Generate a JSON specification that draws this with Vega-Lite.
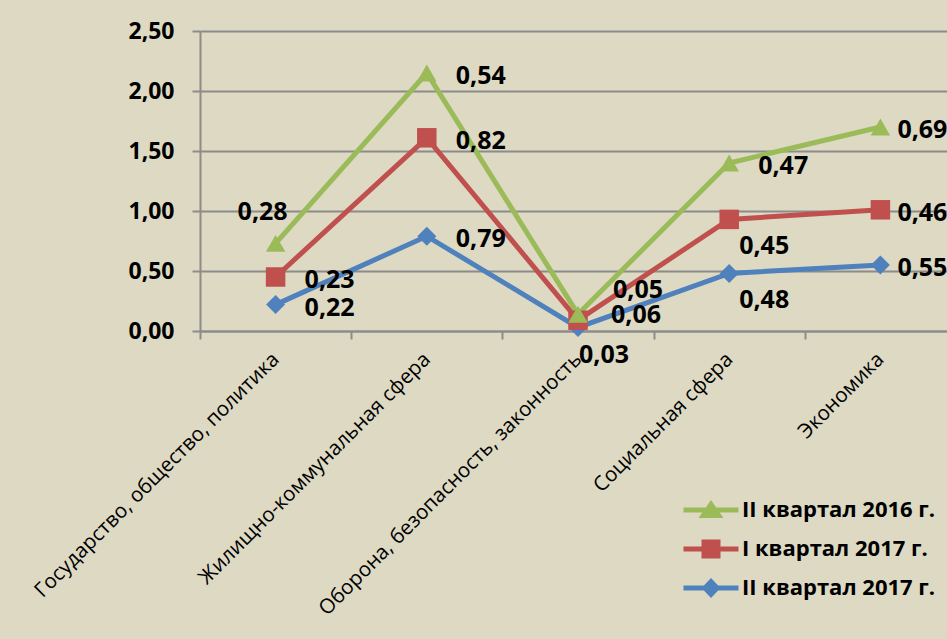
{
  "$schema": "https://vega.github.io/schema/vega-lite/v6.json",
  "autosize": {"type": "none"},
  "padding": {"left": 200, "top": 31, "right": -9, "bottom": 308},
  "width": 756,
  "height": 300,
  "background": "#DDD9C3",
  "config": {
    "view": {"stroke": null},
    "locale": {"number": {"decimal": ",", "thousands": " ", "grouping": [3], "currency": ["", ""]}},
    "font": "Open Sans"
  },
  "data": {
    "values": [
      {"cat": "Государство, общество, политика", "series": "II квартал 2017 г.", "k": 1, "value": 0.22},
      {"cat": "Жилищно-коммунальная сфера", "series": "II квартал 2017 г.", "k": 1, "value": 0.79},
      {"cat": "Оборона, безопасность, законность", "series": "II квартал 2017 г.", "k": 1, "value": 0.03},
      {"cat": "Социальная сфера", "series": "II квартал 2017 г.", "k": 1, "value": 0.48},
      {"cat": "Экономика", "series": "II квартал 2017 г.", "k": 1, "value": 0.55},
      {"cat": "Государство, общество, политика", "series": "I квартал 2017 г.", "k": 2, "value": 0.23},
      {"cat": "Жилищно-коммунальная сфера", "series": "I квартал 2017 г.", "k": 2, "value": 0.82},
      {"cat": "Оборона, безопасность, законность", "series": "I квартал 2017 г.", "k": 2, "value": 0.06},
      {"cat": "Социальная сфера", "series": "I квартал 2017 г.", "k": 2, "value": 0.45},
      {"cat": "Экономика", "series": "I квартал 2017 г.", "k": 2, "value": 0.46},
      {"cat": "Государство, общество, политика", "series": "II квартал 2016 г.", "k": 3, "value": 0.28},
      {"cat": "Жилищно-коммунальная сфера", "series": "II квартал 2016 г.", "k": 3, "value": 0.54},
      {"cat": "Оборона, безопасность, законность", "series": "II квартал 2016 г.", "k": 3, "value": 0.05},
      {"cat": "Социальная сфера", "series": "II квартал 2016 г.", "k": 3, "value": 0.47},
      {"cat": "Экономика", "series": "II квартал 2016 г.", "k": 3, "value": 0.69}
    ]
  },
  "transform": [
    {"stack": "value", "groupby": ["cat"], "sort": [{"field": "k", "order": "ascending"}], "as": ["y0", "y1"]}
  ],
  "encoding": {
    "x": {
      "field": "cat", "type": "nominal",
      "sort": ["Государство, общество, политика", "Жилищно-коммунальная сфера", "Оборона, безопасность, законность", "Социальная сфера", "Экономика"],
      "scale": {"type": "band", "paddingInner": 0, "paddingOuter": 0},
      "axis": {
        "title": null, "labelAngle": -45, "labelAlign": "right", "labelBaseline": "middle", "tickBand": "extent", "ticks": true, "tickSize": 8, "tickWidth": 2,
        "tickColor": "#8C8C8C", "domainColor": "#8C8C8C", "domainWidth": 2, "grid": false,
        "labelFont": "Open Sans", "labelFontSize": 20.5, "labelColor": "#000000", "labelPadding": 17, "labelLimit": 0
      }
    },
    "y": {
      "field": "y1", "type": "quantitative",
      "scale": {"domain": [0, 2.5], "nice": false},
      "axis": {
        "title": null, "values": [0, 0.5, 1, 1.5, 2, 2.5], "format": ".2f",
        "labelFont": "Open Sans", "labelFontSize": 23, "labelFontWeight": "bold", "labelColor": "#000000",
        "tickSize": 8, "tickWidth": 2, "tickColor": "#8C8C8C", "labelPadding": 18,
        "domainColor": "#8C8C8C", "domainWidth": 2,
        "grid": true, "gridColor": "#8C8C8C", "gridWidth": 2
      }
    },
    "color": {
      "field": "series", "type": "nominal",
      "scale": {"domain": ["II квартал 2016 г.", "I квартал 2017 г.", "II квартал 2017 г."], "range": ["#9BBB59", "#C0504D", "#4F81BD"]},
      "legend": {
        "title": null, "orient": "none", "legendX": 500, "legendY": 468, "padding": 0,
        "symbolSize": 400, "labelOffset": 20, "rowPadding": 17, "labelLimit": 0,
        "labelFont": "Open Sans", "labelFontSize": 22, "labelFontWeight": "bold", "labelColor": "#000000",
        "encode": {
          "symbols": {
            "update": {
              "shape": {"signal": "datum.value === 'II квартал 2016 г.' ? 'M-2.75,-0.25H2.75V0.25H-2.75ZM-1.25,0.8L0,-1L1.25,0.8Z' : (datum.value === 'I квартал 2017 г.' ? 'M-2.75,-0.25H2.75V0.25H-2.75ZM-0.95,-0.95H0.95V0.95H-0.95Z' : 'M-2.75,-0.25H2.75V0.25H-2.75ZM0,-1L0.95,0L0,1L-0.95,0Z')"},
              "fill": {"scale": "color", "field": "value"},
              "stroke": {"value": "transparent"},
              "strokeWidth": {"value": 0},
              "opacity": {"value": 1},
              "fillOpacity": {"value": 1}
            }
          }
        }
      }
    }
  },
  "layer": [
    {
      "mark": {"type": "line", "strokeWidth": 5}
    },
    {
      "transform": [{"filter": "datum.k === 1"}],
      "mark": {"type": "point", "filled": true, "opacity": 1, "size": 360, "shape": "diamond"}
    },
    {
      "transform": [{"filter": "datum.k === 2"}],
      "mark": {"type": "point", "filled": true, "opacity": 1, "size": 380, "shape": "square"}
    },
    {
      "transform": [{"filter": "datum.k === 3"}],
      "mark": {"type": "point", "filled": true, "opacity": 1, "size": 380, "shape": "triangle-up"}
    },
    {
      "transform": [{"filter": "datum.cat !== 'Экономика' && !(datum.cat === 'Социальная сфера' && datum.k < 3) && datum.cat !== 'Оборона, безопасность, законность' && !(datum.cat === 'Государство, общество, политика' && datum.k === 3)"}],
      "mark": {"type": "text", "align": "left", "baseline": "middle", "dx": 29, "dy": 3, "font": "Open Sans", "fontSize": 25, "fontWeight": "bold", "color": "#000000"},
      "encoding": {"text": {"field": "value", "type": "quantitative", "format": ".2f"}, "color": {"value": "#000000"}}
    },
    {
      "transform": [{"filter": "datum.cat === 'Экономика'"}],
      "mark": {"type": "text", "align": "left", "baseline": "middle", "dx": 17, "dy": 3, "font": "Open Sans", "fontSize": 25, "fontWeight": "bold", "color": "#000000"},
      "encoding": {"text": {"field": "value", "type": "quantitative", "format": ".2f"}, "color": {"value": "#000000"}}
    },
    {
      "transform": [{"filter": "datum.cat === 'Социальная сфера' && datum.k < 3"}],
      "mark": {"type": "text", "align": "left", "baseline": "middle", "dx": 10, "dy": 27, "font": "Open Sans", "fontSize": 25, "fontWeight": "bold", "color": "#000000"},
      "encoding": {"text": {"field": "value", "type": "quantitative", "format": ".2f"}, "color": {"value": "#000000"}}
    },
    {
      "transform": [{"filter": "datum.cat === 'Оборона, безопасность, законность' && datum.k === 1"}],
      "mark": {"type": "text", "align": "left", "baseline": "middle", "dx": 1, "dy": 28, "font": "Open Sans", "fontSize": 25, "fontWeight": "bold", "color": "#000000"},
      "encoding": {"text": {"field": "value", "type": "quantitative", "format": ".2f"}, "color": {"value": "#000000"}}
    },
    {
      "transform": [{"filter": "datum.cat === 'Государство, общество, политика' && datum.k === 3"}],
      "mark": {"type": "text", "align": "center", "baseline": "middle", "dx": -13, "dy": -31, "font": "Open Sans", "fontSize": 25, "fontWeight": "bold", "color": "#000000"},
      "encoding": {"text": {"field": "value", "type": "quantitative", "format": ".2f"}, "color": {"value": "#000000"}}
    },
    {
      "transform": [{"filter": "datum.cat === 'Оборона, безопасность, законность' && datum.k === 3"}],
      "mark": {"type": "text", "align": "left", "baseline": "middle", "dx": 35, "dy": -24, "font": "Open Sans", "fontSize": 25, "fontWeight": "bold", "color": "#000000"},
      "encoding": {"text": {"field": "value", "type": "quantitative", "format": ".2f"}, "color": {"value": "#000000"}}
    },
    {
      "transform": [{"filter": "datum.cat === 'Оборона, безопасность, законность' && datum.k === 2"}],
      "mark": {"type": "text", "align": "left", "baseline": "middle", "dx": 33, "dy": -5, "font": "Open Sans", "fontSize": 25, "fontWeight": "bold", "color": "#000000"},
      "encoding": {"text": {"field": "value", "type": "quantitative", "format": ".2f"}, "color": {"value": "#000000"}}
    }
  ]
}
